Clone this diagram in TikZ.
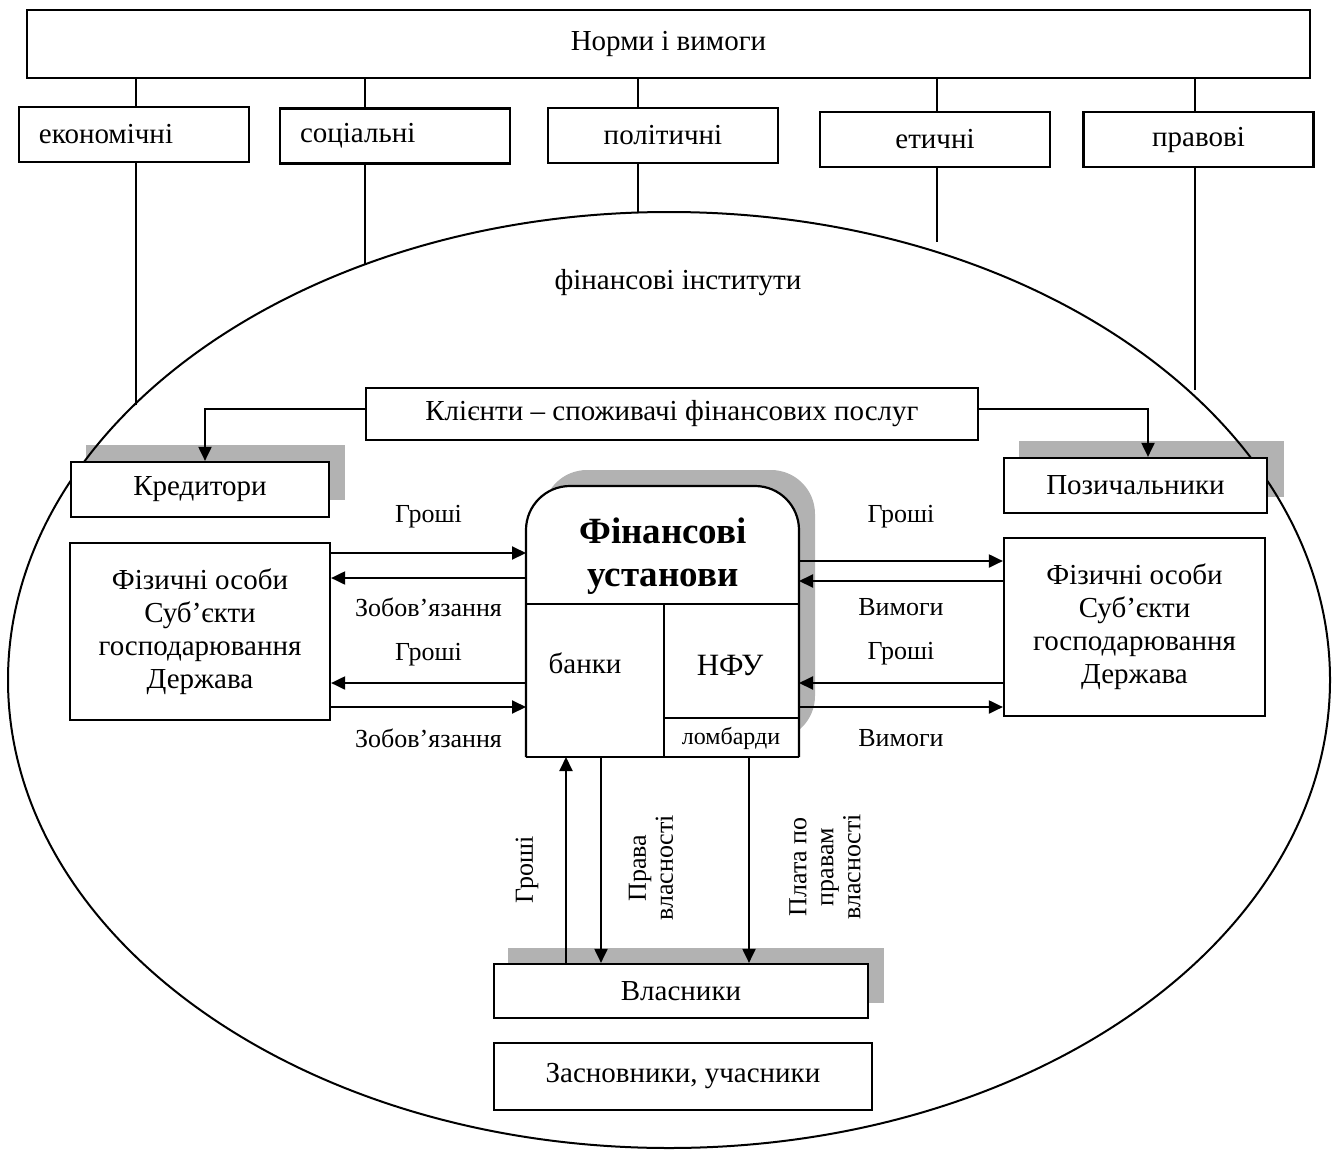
\documentclass[tikz,border=0pt]{standalone}
\usepackage{fontspec}
\setmainfont{Liberation Serif}
\usetikzlibrary{arrows.meta}

\begin{document}
\begin{tikzpicture}[x=0.5pt,y=-0.5pt,line width=1pt,
  every node/.style={font=\fontsize{14.5}{16.5}\selectfont},
  box/.style={draw,fill=white,line width=1.1pt,inner sep=0pt,align=center},
  catbox/.style={box,minimum width=115pt,minimum height=27.5pt,text width=95pt},
  shade/.style={fill=black!30,draw=none},
  flow/.style={-{Triangle[length=7pt,width=6.5pt]}},
  lbl/.style={font=\fontsize{13}{13.5}\selectfont}]
\useasboundingbox (0,0) rectangle (1338,1151);
% shadows behind the boxes
\fill[shade] (86,445) rectangle (345,500);
\fill[shade] (1019,441) rectangle (1284,497);
\fill[shade] (508,948) rectangle (884,1003);
\fill[shade,rounded corners=22pt] (543,470) rectangle (815,740);
% the big oval
\draw (669,680) ellipse [x radius=330.5pt, y radius=234pt];
\node (inst) at (678,283) {фінансові інститути};
% norms and the five kinds
\node[box,minimum width=641.5pt,minimum height=34pt] (norms) at (668.5,44) {Норми і вимоги};
\foreach \name/\cx/\cy/\lx/\ly/\al/\txt in {econ/134/134.5/136/405/left/економічні,soc/395/136/365/264/left/соціальні,pol/663/135.5/638/212/center/політичні,eth/935/139.5/937/242/center/етичні,law/1198.5/139.5/1195/390/center/правові} {
  \node[catbox,align=\al] (\name) at (\cx,\cy) {\txt};
  \draw (norms.south -| \lx,0) -- (\name.north -| \lx,0);
  \draw (\name.south -| \lx,0) -- (\lx,\ly);
}
% clients
\node[box,minimum width=306pt,minimum height=26pt] (cli) at (672,414) {Клієнти -- споживачі фінансових послуг};
\node[box,minimum width=129pt,minimum height=27.5pt] (kred) at (200,489.5) {Кредитори};
\node[box,minimum width=131.5pt,minimum height=27.5pt] (poz) at (1135.5,485.5) {Позичальники};
\draw[flow] (cli.west |- 0,409) -| (kred.north -| 205,0);
\draw[flow] (cli.east |- 0,409) -| (poz.north -| 1148,0);
\node[box,minimum width=130pt,minimum height=88.5pt] (lphys) at (200,631.5) {Фізичні особи\\Суб’єкти\\господарювання\\Держава};
\node[box,minimum width=130.5pt,minimum height=89pt] (rphys) at (1134.5,627) {Фізичні особи\\Суб’єкти\\господарювання\\Держава};
% financial institutions
\node[minimum width=135.5pt,minimum height=134.5pt,inner sep=0pt] (fin) at (662.5,621.5) {};
\draw[fill=white,line width=1.1pt,rounded corners=22pt] (fin.south west) -- (fin.north west) -- (fin.north east) -- (fin.south east);
\draw[line width=1.1pt] (fin.south west) -- (fin.south east);
\draw (fin.west |- 0,604) -- (fin.east |- 0,604);
\draw (664,604) -- (fin.south -| 664,0);
\draw (664,718) -- (fin.east |- 0,718);
\node[font=\bfseries\fontsize{18.5}{21.5}\selectfont,align=center] (fintxt) at (663,556) {Фінансові\\установи};
\node (bank) at (585,663) {банки};
\node[font=\fontsize{15.5}{17}\selectfont] (nfu) at (730,665) {НФУ};
\node[font=\fontsize{12}{14}\selectfont] (lomb) at (731,738) {ломбарди};
% flows left and right
\foreach \y/\from/\to/\dy/\txt in {553/lphys.east/fin.west/18/Гроші,578/fin.west/lphys.east/-14.5/Зобов’язання,683/fin.west/lphys.east/14/Гроші,707/lphys.east/fin.west/-15.5/Зобов’язання,561/fin.east/rphys.west/22/Гроші,581/rphys.west/fin.east/-13/Вимоги,683/rphys.west/fin.east/14.5/Гроші,707/fin.east/rphys.west/-15.5/Вимоги}
  \draw[flow] (\from |- 0,\y) -- (\to |- 0,\y) node[midway,lbl,yshift=\dy pt] {\txt};
% owners
\node[box,minimum width=187pt,minimum height=27pt] (vlas) at (681,991) {Власники};
\node[box,minimum width=189pt,minimum height=33.5pt] (zasn) at (683,1076.5) {Засновники, учасники};
\draw[flow] (vlas.north -| 566,0) -- (fin.south -| 566,0);
\draw[flow] (fin.south -| 601,0) -- (vlas.north -| 601,0);
\draw[flow] (fin.south -| 749,0) -- (vlas.north -| 749,0);
\node[lbl,rotate=90] (vl1) at (527,870) {Гроші};
\node[lbl,rotate=90,align=center] (vl2) at (651,868) {Права\\власності};
\node[lbl,rotate=90,align=center] (vl3) at (825,867) {Плата по\\правам\\власності};
\end{tikzpicture}
\end{document}
